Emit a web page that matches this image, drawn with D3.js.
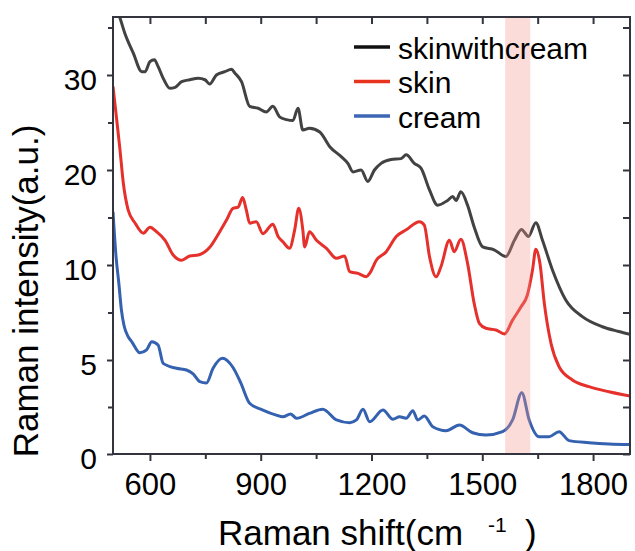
<!DOCTYPE html>
<html><head><meta charset="utf-8">
<script src="https://cdn.jsdelivr.net/npm/d3@7"></script>
<style>
html,body{margin:0;padding:0;background:#fff;}
svg{display:block;font-family:"Liberation Sans",Arial,sans-serif;}
</style></head>
<body>
<svg id="chart" width="635" height="551"></svg>
<script>
// ---- data ----
const seriesNames = ["skinwithcream", "skin", "cream"];
const seriesColors = ["#424242", "#e5302b", "#3461b0"];
const legendColors = ["#111111", "#e8341f", "#3d66b4"];

const skinCreamShift = [500,519,532,555,578,587,600,612,622,636,654,668,686,708,731,749,762,780,803,821,830,848,870,893,915,933,951,970,987,1001,1014,1032,1060,1087,1118,1136,1150,1172,1190,1208,1226,1253,1280,1294,1316,1334,1357,1379,1406,1420,1429,1442,1460,1478,1501,1532,1564,1587,1606,1625,1645,1663,1690,1726,1771,1825,1870,1900];
const skinCreamIntensity = [38,36.0,34.4,32.3,30.35,30.35,31.4,31.6,30.9,29.65,28.6,28.7,29.3,29.5,29.65,29.5,29.05,30.0,30.35,30.6,30.2,29.3,26.7,26.5,26.1,26.7,25.6,25.3,25.2,26.5,24.2,24.4,24.0,22.45,21.4,20.7,19.8,20.0,18.8,20.0,20.7,21.1,21.2,21.6,20.7,20.2,17.9,16.3,16.8,17.2,16.8,17.7,16.3,14.0,11.9,11.6,10.9,12.6,13.75,13.0,14.45,12.6,9.74,8.16,7.28,6.75,6.5,6.35];

const skinShift = [500,510,519,528,541,560,582,600,618,641,663,686,708,731,762,789,807,825,839,851,861,870,888,906,933,947,960,978,992,1003,1014,1019,1032,1051,1078,1105,1127,1141,1163,1186,1195,1213,1240,1267,1294,1330,1343,1357,1375,1388,1411,1424,1442,1460,1478,1492,1510,1537,1560,1582,1605,1622,1636,1645,1656,1668,1686,1708,1744,1789,1843,1900];
const skinIntensity = [28.8,25.3,22.1,18.6,15.8,14.4,13.35,13.97,13.5,12.6,11.05,10.5,10.95,11.05,11.86,13.5,14.7,15.97,16.1,17.1,15.8,14.4,14.56,13.3,14.3,13.0,12.45,11.76,13.7,15.97,13.7,11.9,13.5,12.6,11.76,10.7,10.95,9.65,9.56,9.38,9.56,10.5,11.4,13.0,13.7,14.56,14.2,10.9,9.38,9.91,12.6,11.4,12.7,10.2,7.98,6.93,6.67,6.58,6.37,7.1,7.8,8.42,9.74,11.65,10.2,7.98,5.88,4.64,3.94,3.58,3.31,3.08];

const creamShift = [500,508,516,523,530,541,551,573,591,605,622,636,672,699,717,735,753,771,796,825,846,870,906,942,960,981,997,1032,1068,1105,1141,1159,1177,1195,1231,1258,1276,1294,1312,1325,1343,1366,1402,1438,1474,1510,1555,1582,1607,1627,1654,1681,1708,1735,1789,1843,1900];
const creamIntensity = [15.6,11.0,9.0,7.6,6.8,6.23,5.96,5.38,5.53,5.96,5.79,4.82,4.56,4.47,4.26,3.85,3.78,4.56,5.09,4.6,3.78,2.7,2.34,2.07,1.98,2.13,1.9,2.16,2.38,1.81,1.66,1.81,2.38,1.72,2.34,1.85,1.98,1.9,2.3,1.81,2.02,1.45,1.24,1.54,1.13,1.01,1.19,1.81,3.26,1.81,0.92,0.92,1.19,0.71,0.6,0.53,0.5];

const bandRange = [1562, 1630];
const xMajorTicks = [600, 900, 1200, 1500, 1800];
const xMinorTicks = [750, 1050, 1350, 1650];
const yMajorTicks = [0, 5, 10, 20, 30];
const yMinorTicks = [2.5, 7.5, 15, 25, 35];
const xDomain = [500, 1900];
const yBreaks = [0, 5, 10, 20, 30, 40];

// ---- layout ----
const L = 113, R = 630, T = 17, B = 454;
const axisColor = "#34343f";
const svg = d3.select("#chart");

const x = d3.scaleLinear().domain(xDomain).range([L, R]);
// piecewise (broken) intensity axis: equal spacing for 0-5, 5-10, 10-20, 20-30
const y = d3.scaleLinear().domain(yBreaks).range([454, 360, 265, 170, 75, -20]);

svg.append("defs").append("clipPath").attr("id", "plotclip")
  .append("rect").attr("x", L).attr("y", T).attr("width", R - L).attr("height", B - T);

const series = [
  {name: seriesNames[0], xs: skinCreamShift, ys: skinCreamIntensity},
  {name: seriesNames[1], xs: skinShift, ys: skinIntensity},
  {name: seriesNames[2], xs: creamShift, ys: creamIntensity}
];

const line = d3.line().x(d => x(d[0])).y(d => y(d[1])).curve(d3.curveMonotoneX);
const plot = svg.append("g").attr("clip-path", "url(#plotclip)");
series.forEach((s, i) => {
  plot.append("path")
    .datum(s.xs.map((v, j) => [v, s.ys[j]]))
    .attr("d", line)
    .attr("fill", "none")
    .attr("stroke", seriesColors[i])
    .attr("stroke-width", 3)
    .attr("stroke-linejoin", "round");
});

// highlight band (semi-transparent, above curves)
plot.append("rect")
  .attr("x", x(bandRange[0])).attr("y", T)
  .attr("width", x(bandRange[1]) - x(bandRange[0]))
  .attr("height", B - T)
  .attr("fill", "rgb(242,150,140)").attr("fill-opacity", 0.33);

// ---- axes ----
function styleAxis(g) {
  g.select(".domain").remove();
  g.selectAll(".tick line").attr("stroke", axisColor).attr("stroke-width", 2);
  g.selectAll(".tick text").attr("fill", "#000");
}
// bottom
svg.append("g").attr("transform", `translate(0,${B})`)
  .call(d3.axisBottom(x).tickValues(xMajorTicks).tickSize(7).tickPadding(12).tickFormat(d3.format("d")))
  .call(styleAxis)
  .call(g => g.selectAll(".tick text").attr("font-size", 31).attr("dy", "0.71em"));
svg.append("g").attr("transform", `translate(0,${B})`)
  .call(d3.axisBottom(x).tickValues(xMinorTicks).tickSize(5).tickFormat(""))
  .call(styleAxis);
// top (inward)
svg.append("g").attr("transform", `translate(0,${T})`)
  .call(d3.axisBottom(x).tickValues(xMajorTicks.concat(xMinorTicks)).tickSize(7).tickFormat(""))
  .call(styleAxis);
// left
svg.append("g").attr("transform", `translate(${L},0)`)
  .call(d3.axisLeft(y).tickValues(yMajorTicks).tickSize(6).tickPadding(10).tickFormat(d3.format("d")))
  .call(styleAxis)
  .call(g => g.selectAll(".tick text").attr("font-size", 30).attr("dy", "0.48em"));
svg.append("g").attr("transform", `translate(${L},0)`)
  .call(d3.axisLeft(y).tickValues(yMinorTicks).tickSize(5).tickFormat(""))
  .call(styleAxis);
// right (inward)
svg.append("g").attr("transform", `translate(${R},0)`)
  .call(d3.axisLeft(y).tickValues(yMajorTicks.concat(yMinorTicks)).tickSize(7).tickFormat(""))
  .call(styleAxis);

// frame
svg.append("rect").attr("x", L).attr("y", T).attr("width", R - L).attr("height", B - T)
  .attr("fill", "none").attr("stroke", axisColor).attr("stroke-width", 2);

// ---- legend ----
const leg = svg.append("g");
seriesNames.forEach((n, i) => {
  const cy = 47 + i * 34.5;
  leg.append("line").attr("x1", 354).attr("x2", 390).attr("y1", cy).attr("y2", cy)
    .attr("stroke", legendColors[i]).attr("stroke-width", 3.5);
  leg.append("text").attr("x", 398).attr("y", cy + 11.5).attr("font-size", 30).attr("fill", "#000").text(n);
});

// ---- axis titles ----
const xt = svg.append("text").attr("y", 545).attr("font-size", 35).attr("fill", "#000");
xt.append("tspan").attr("x", 218).text("Raman shift(cm");
xt.append("tspan").attr("x", 488).attr("dy", -13).attr("font-size", 21).text("-1");
xt.append("tspan").attr("x", 525).attr("dy", 13).text(")");

svg.append("text")
  .attr("transform", "translate(38,291) rotate(-90)")
  .attr("text-anchor", "middle")
  .attr("font-size", 35).attr("fill", "#000")
  .text("Raman intensity(a.u.)");
</script>
</body></html>
